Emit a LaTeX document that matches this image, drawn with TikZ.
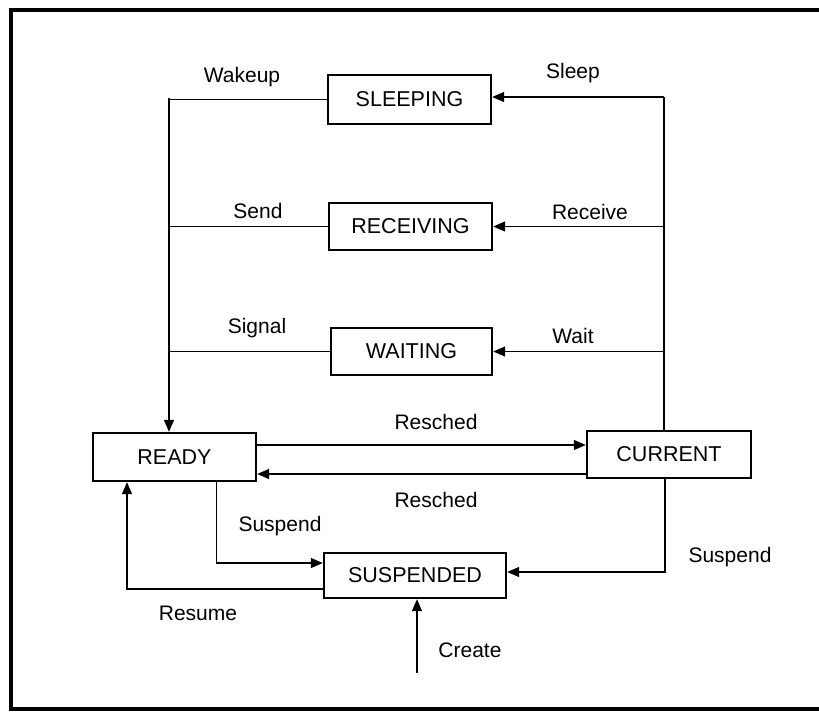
\documentclass[tikz,border=0pt]{standalone}
\usepackage{fontspec}
\setmainfont{Liberation Sans}
\usetikzlibrary{arrows.meta}
\begin{document}
\begin{tikzpicture}[x=1pt,y=-1pt,
  state/.style={draw, line width=2.4pt, inner sep=0pt, font=\fontsize{21.5}{25}\selectfont},
  conn/.style={line width=1.3pt},
  arr/.style={conn, -{Triangle[length=12pt,width=10pt]}},
  lbl/.style={font=\fontsize{21}{25}\selectfont, inner sep=0pt},
  frame/.style={line width=4.5pt}]
\useasboundingbox (0,0) rectangle (819,713);
\draw[frame] (822,10) -- (11,10) -- (11,709) -- (822,709);

\node[state, minimum width=163pt, minimum height=49pt] (sleep) at (409.5,99.5) {SLEEPING};
\node[state, minimum width=163pt, minimum height=47pt] (rec) at (410.5,226.5) {RECEIVING};
\node[state, minimum width=161pt, minimum height=47pt] (wait) at (411.5,351.5) {WAITING};
\node[state, minimum width=163pt, minimum height=48pt] (ready) at (174.5,457) {READY};
\node[state, minimum width=164pt, minimum height=47pt] (cur) at (669,454.5) {CURRENT};
\node[state, minimum width=182pt, minimum height=45pt] (susp) at (415,575.5) {SUSPENDED};

\coordinate (rv) at (664,97);
\coordinate (lv) at (169,98);
\coordinate (cr) at (417,673);

% right side: CURRENT up to Sleep / Receive / Wait
\draw[conn] (cur.north -| rv) -- (rv);
\draw[arr] (rv) -- (rv -| sleep.east);
\draw[arr] (rv |- rec.east) -- (rec.east);
\draw[arr] (rv |- wait.east) -- (wait.east);

% left side: Wakeup / Send / Signal down to READY
\draw[arr] (sleep.west) -| (lv) -- (lv |- ready.north);
\draw[conn] (rec.west) -- (rec.west -| lv);
\draw[conn] (wait.west) -- (wait.west -| lv);

% Resched
\draw[arr] ([yshift=12pt]ready.east) -- ([yshift=12pt]ready.east -| cur.west);
\draw[arr] ([yshift=-17pt]ready.east -| cur.west) -- ([yshift=-17pt]ready.east);

% Suspend / Resume
\draw[arr] ([xshift=42pt]ready.south) |- ([yshift=12.5pt]susp.west);
\draw[arr] ([yshift=-13.5pt]susp.west) -| ([xshift=-47.5pt]ready.south);
\draw[arr] ([xshift=-4pt]cur.south) |- ([yshift=3.5pt]susp.east);

% Create
\draw[arr] (cr) -- (cr |- susp.south);

% labels
\node[lbl] (lwake) at (242,77) {Wakeup};
\node[lbl] (lsleep) at (573,73) {Sleep};
\node[lbl] (lsend) at (258,211) {Send};
\node[lbl] (lrecv) at (590,212) {Receive};
\node[lbl] (lsig) at (257,328) {Signal};
\node[lbl] (lwait) at (573,336) {Wait};
\node[lbl] (lres1) at (436,422) {Resched};
\node[lbl] (lres2) at (436,500) {Resched};
\node[lbl] (lsus1) at (280,526) {Suspend};
\node[lbl] (lsus2) at (730,557) {Suspend};
\node[lbl] (lresume) at (198,613) {Resume};
\node[lbl] (lcreate) at (470,650) {Create};
\end{tikzpicture}
\end{document}
